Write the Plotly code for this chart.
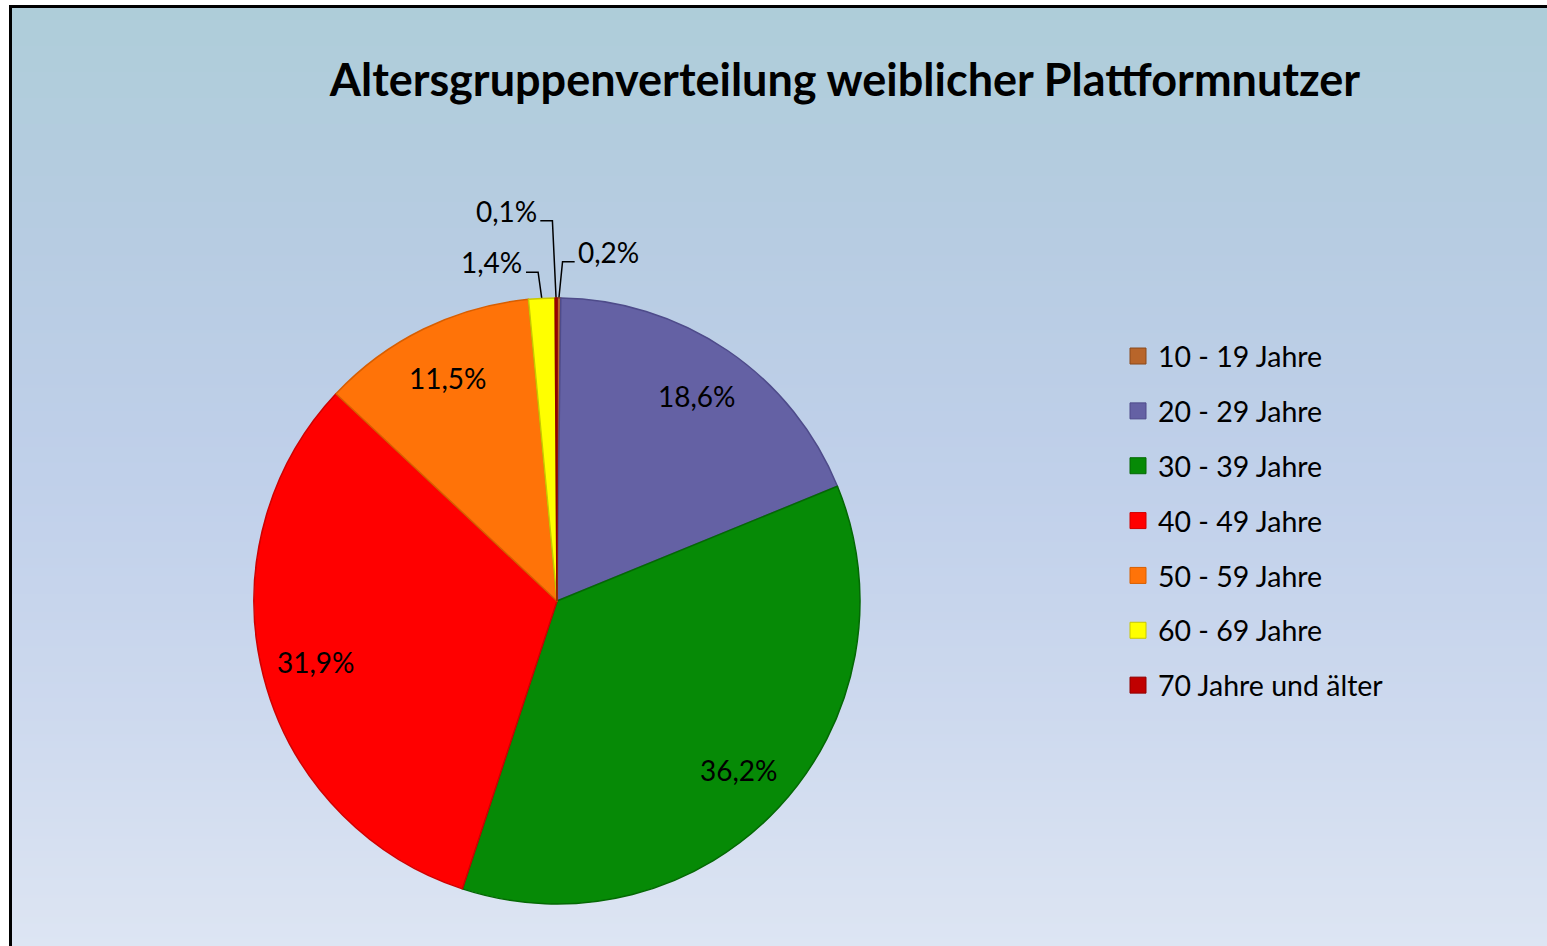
import math
import plotly.graph_objects as go

# ---- data ----
categories = ["10 - 19 Jahre", "20 - 29 Jahre", "30 - 39 Jahre", "40 - 49 Jahre",
              "50 - 59 Jahre", "60 - 69 Jahre", "70 Jahre und älter"]
values = [0.2, 18.6, 36.2, 31.9, 11.5, 1.4, 0.1]
title_text = "Altersgruppenverteilung weiblicher Plattformnutzer"

# ---- styles ----
colors = ["#b8652a", "#6461a4", "#068a06", "#ff0000", "#ff7308", "#ffff00", "#c00000"]
edge_colors = ["#8a4a1c", "#4e4b8a", "#046804", "#d00000", "#d85e00", "#c8c800", "#900000"]
# label placement: None = inside; otherwise (side, leader height in pie radii)
label_style = [(1, 1.12), None, None, None, None, (-1, 1.085), (-1, 1.255)]
inside_r = 0.82

bg_stops = [0.0, 0.25, 0.5, 0.75, 1.0]            # bottom -> top
bg_colors = ["#dde5f3", "#cdd9ee", "#c0d0ea", "#b7cce2", "#aecdd9"]

W, H = 1547, 946
FONT = "Lato, Open Sans, sans-serif"
cx, cy, R = 557, 601, 303          # pie centre / radius in px (from top-left)

def fmt(v):
    return f"{v:.1f}%".replace(".", ",")

fig = go.Figure()

# gradient background as heatmap
fig.add_trace(go.Heatmap(
    z=[[s, s] for s in bg_stops], x=[0, 1], y=bg_stops,
    colorscale=[[s, c] for s, c in zip(bg_stops, bg_colors)],
    zmin=0, zmax=1, zsmooth="best", showscale=False, hoverinfo="skip",
))

# pie
fig.add_trace(go.Pie(
    labels=categories, values=values, sort=False, direction="clockwise", rotation=0,
    marker=dict(colors=colors, line=dict(color=edge_colors, width=1.5)),
    textinfo="none",
    domain=dict(x=[(cx - R) / W, (cx + R) / W], y=[(H - cy - R) / H, (H - cy + R) / H]),
    showlegend=False, hoverinfo="label+percent",
))

# overlay axes in units of pie radius, centred on pie centre
xr = (-1.25, 1.25)
yr = (-1.1, 1.4)
total = sum(values)
cum = 0
annotations = []
for v, st in zip(values, label_style):
    theta = 2 * math.pi * (cum + v / 2) / total
    cum += v
    sx, sy = math.sin(theta), math.cos(theta)
    if st is None:
        annotations.append(dict(
            x=inside_r * sx, y=inside_r * sy, xref="x2", yref="y2", text=fmt(v),
            showarrow=False, xanchor="center", yanchor="middle",
            font=dict(family=FONT, size=28, color="black"),
        ))
    else:
        side, h = st
        ex = sx + side * 0.012
        hx = ex + side * 0.04
        fig.add_trace(go.Scatter(
            x=[sx, ex, hx], y=[sy, h, h], mode="lines", xaxis="x2", yaxis="y2",
            line=dict(color="black", width=1.5), showlegend=False, hoverinfo="skip",
            cliponaxis=False,
        ))
        annotations.append(dict(
            x=hx + side * 0.005, y=h, xref="x2", yref="y2", text=fmt(v), showarrow=False,
            xanchor="left" if side > 0 else "right", yanchor="middle", yshift=10,
            font=dict(family=FONT, size=28, color="black"),
        ))

# legend entries
for cat, col, ec in zip(categories, colors, edge_colors):
    fig.add_trace(go.Scatter(
        x=[None], y=[None], mode="markers", name=cat, legendgroup=cat,
        marker=dict(symbol="square", size=18, color=col, line=dict(color=ec, width=1)),
    ))

fig.update_layout(
    width=W, height=H, margin=dict(l=0, r=0, t=0, b=0),
    paper_bgcolor="white", plot_bgcolor="rgba(0,0,0,0)",
    xaxis=dict(domain=[10 / W, 1], range=[0, 1], visible=False, fixedrange=True),
    yaxis=dict(domain=[0, 1 - 6 / H], range=[0, 1], visible=False, fixedrange=True),
    xaxis2=dict(domain=[(cx + xr[0] * R) / W, (cx + xr[1] * R) / W], range=list(xr),
                visible=False, fixedrange=True, anchor="y2"),
    yaxis2=dict(domain=[(H - cy + yr[0] * R) / H, (H - cy + yr[1] * R) / H], range=list(yr),
                visible=False, fixedrange=True, anchor="x2"),
    title=dict(text="<b>" + title_text + "</b>", x=845 / W, xanchor="center",
               y=1 - 80 / H, yanchor="middle",
               font=dict(family=FONT, size=45, color="black")),
    legend=dict(x=1118 / W, xanchor="left", y=1 - 331 / H, yanchor="top",
                font=dict(family=FONT, size=28.5, color="black"),
                bgcolor="rgba(0,0,0,0)", tracegroupgap=14.8, itemclick=False),
    annotations=annotations,
    shapes=[
        dict(type="line", xref="paper", yref="paper", x0=10.5 / W, x1=10.5 / W,
             y0=0, y1=1 - 5 / H, line=dict(color="black", width=3)),
        dict(type="line", xref="paper", yref="paper", x0=9 / W, x1=1,
             y0=1 - 6.5 / H, y1=1 - 6.5 / H, line=dict(color="black", width=3)),
    ],
)

fig.write_html("out.html", config={"displayModeBar": False},
               post_script="document.body.style.margin='0';")
